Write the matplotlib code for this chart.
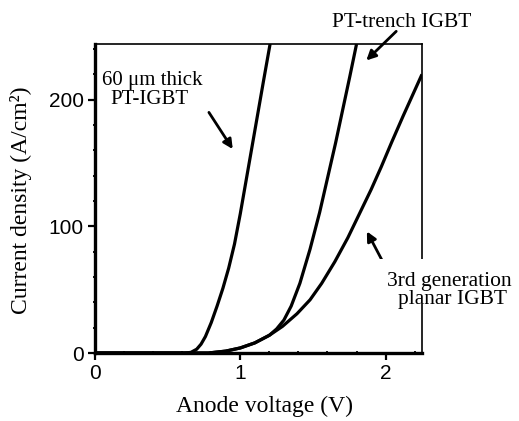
import matplotlib
matplotlib.use("Agg")
import matplotlib.pyplot as plt
from matplotlib.ticker import MultipleLocator

# curves: anode voltage (V) vs current density (A/cm2)
v_thin = [0, 0.62, 0.66, 0.70, 0.73, 0.76, 0.80, 0.84, 0.88, 0.92, 0.96, 1.0, 1.09, 1.16, 1.205]
j_thin = [0, 0, 0.5, 3, 7, 13, 24, 37, 51, 67, 86, 110, 169, 215, 244]

v_trench = [0, 0.78, 0.9, 1.0, 1.1, 1.2, 1.25, 1.30, 1.35, 1.41, 1.48, 1.546, 1.60, 1.656, 1.753, 1.80]
j_trench = [0, 0, 1.5, 4, 8, 14, 19, 26, 37, 55, 82, 111, 138, 166, 218, 244]

v_planar = [0, 0.78, 0.9, 1.0, 1.1, 1.2, 1.29, 1.39, 1.48, 1.56, 1.65, 1.74, 1.82, 1.90, 1.97, 2.04, 2.12, 2.25]
j_planar = [0, 0, 1.5, 4, 8, 14, 21, 31, 42, 55, 72, 91, 110, 129, 147, 166, 187, 220]

x_ticks = [0, 1, 2]
y_ticks = [0, 100, 200]

serif = "Liberation Serif"
sans = "Liberation Sans"

fig = plt.figure(figsize=(5.19, 4.21), dpi=100)
ax = fig.add_axes([0.183, 0.1615, 0.630, 0.734])

for v, j in [(v_thin, j_thin), (v_trench, j_trench), (v_planar, j_planar)]:
    ax.plot(v, j, color="black", lw=2.3, solid_capstyle="butt", solid_joinstyle="round")

ax.set_xlim(0, 2.25)
ax.set_ylim(0, 244)
ax.set_xticks(x_ticks)
ax.set_yticks(y_ticks)
ax.xaxis.set_minor_locator(MultipleLocator(0.2))
ax.yaxis.set_minor_locator(MultipleLocator(20))
ax.tick_params(which="major", direction="out", length=5, width=1.6, labelsize=15, pad=3)
ax.tick_params(which="minor", direction="inout", length=3, width=1.3)
for lab in ax.get_xticklabels() + ax.get_yticklabels():
    lab.set_fontfamily(sans)

ax.spines["left"].set_linewidth(2.4)
ax.spines["bottom"].set_linewidth(2.4)
ax.spines["top"].set_linewidth(1.2)
ax.spines["right"].set_linewidth(1.2)

fig.text(264.5 / 519, 1 - 406 / 421, "Anode voltage (V)", family=serif, fontsize=17,
         ha="center", va="center")
fig.text(21 / 519, 1 - 200 / 421, "Current density (A/cm²)", family=serif, fontsize=17,
         ha="center", va="center", rotation=90)

arrow = dict(arrowstyle="-|>", color="black", lw=2, mutation_scale=14, shrinkA=0, shrinkB=0)

# 60 um device
ax.text(0.048, 212, "60 μm thick", family=serif, fontsize=15, va="baseline")
ax.text(0.103, 197, "PT-IGBT", family=serif, fontsize=15, va="baseline")
ax.annotate("", xy=(0.948, 161), xytext=(0.784, 190), arrowprops=arrow)

# trench device
ax.text(2.11, 257.5, "PT-trench IGBT", family=serif, fontsize=15.5, ha="center",
        va="baseline", clip_on=False)
ax.annotate("", xy=(1.867, 231), xytext=(2.073, 254), arrowprops=arrow,
            annotation_clip=False)

# planar device
ax.text(2.44, 53, "3rd generation", family=serif, fontsize=15.5, ha="center",
        va="baseline", zorder=5,
        bbox=dict(boxstyle="square,pad=0.6", fc="white", ec="none"))
ax.text(2.46, 38.5, "planar IGBT", family=serif, fontsize=15.5, ha="center",
        va="baseline", zorder=5)
ax.annotate("", xy=(1.871, 96), xytext=(1.981, 72), arrowprops=arrow)

fig.savefig("out.png", dpi=100)
